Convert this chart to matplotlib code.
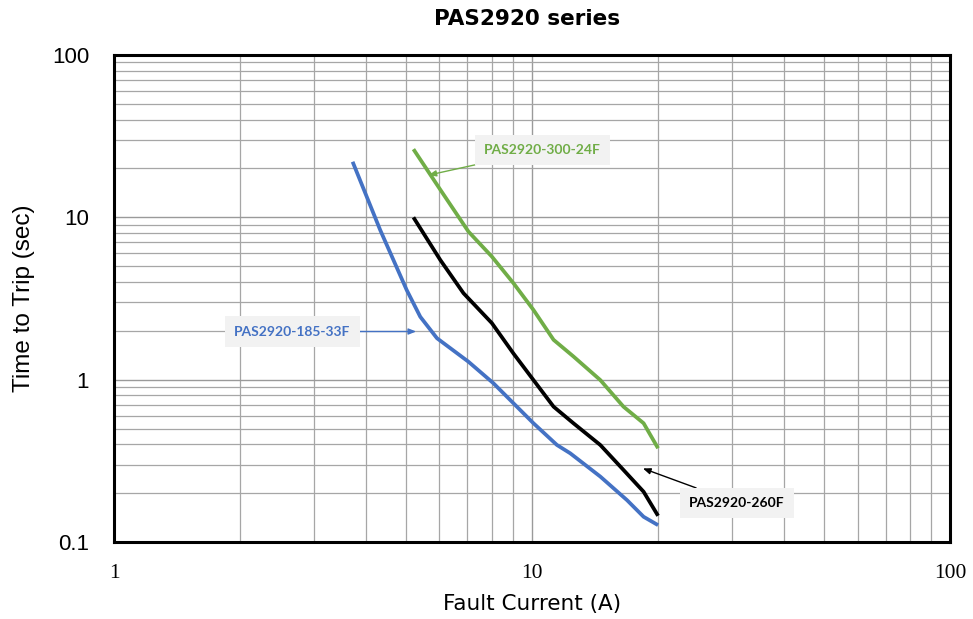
import matplotlib.pyplot as plt

# =====================================================
# DATA
# =====================================================
current_185 = [3.72, 4.33, 5.01, 5.40, 5.92, 7.04, 8.08, 10.07, 11.46, 12.33, 14.55, 16.86, 18.47, 20.0]
time_185 = [22.0, 8.36, 3.57, 2.44, 1.80, 1.29, 0.95, 0.539, 0.396, 0.352, 0.253, 0.181, 0.143, 0.127]

current_260 = [5.2, 6.03, 6.85, 8.01, 9.02, 10.07, 11.25, 12.55, 14.55, 16.53, 18.47, 20.0]
time_260 = [10.0, 5.46, 3.41, 2.23, 1.45, 0.995, 0.682, 0.539, 0.396, 0.278, 0.204, 0.145]

current_300 = [5.2, 6.03, 7.04, 8.01, 9.02, 10.07, 11.25, 12.55, 14.55, 16.53, 18.47, 20.0]
time_300 = [26.3, 14.8, 8.17, 5.73, 3.93, 2.69, 1.76, 1.39, 0.995, 0.682, 0.539, 0.378]

x_ticks = [1, 10, 100]
x_tick_labels = ["1", "10", "100"]
y_ticks = [0.1, 1, 10, 100]
y_tick_labels = ["0.1", "1", "10", "100"]

# =====================================================
# COLORS
# =====================================================
blue = "#4472C4"
green = "#70AD47"
black = "#000000"

# =====================================================
# FIGURE
# =====================================================
fig = plt.figure(figsize=(9.73, 6.19), dpi=100)
ax = fig.add_axes([0.1172, 0.1244, 0.8595, 0.7867])

ax.set_xscale("log")
ax.set_yscale("log")
ax.set_xlim(1, 100)
ax.set_ylim(0.1, 100)

# grid
ax.grid(True, which="major", color="#9a9a9a", linewidth=1.0)
ax.grid(True, which="minor", color="#a6a6a6", linewidth=0.9)
ax.set_axisbelow(True)

for s in ax.spines.values():
    s.set_linewidth(2.2)
    s.set_color("black")

# curves
lw = 2.7
ax.plot(current_185, time_185, color=blue, linewidth=lw, solid_capstyle="butt", solid_joinstyle="round", zorder=3)
ax.plot(current_260, time_260, color=black, linewidth=lw, solid_capstyle="butt", solid_joinstyle="round", zorder=3)
ax.plot(current_300, time_300, color=green, linewidth=lw, solid_capstyle="butt", solid_joinstyle="round", zorder=3)

# ticks
ax.set_xticks(x_ticks)
ax.set_xticklabels(x_tick_labels, fontfamily="Liberation Serif", fontsize=15.5)
ax.set_yticks(y_ticks)
ax.set_yticklabels(y_tick_labels, fontfamily="Liberation Sans", fontsize=16)
ax.tick_params(axis="both", which="both", length=0)
ax.tick_params(axis="x", pad=16)
ax.tick_params(axis="y", pad=18)

# labels
ax.set_xlabel("Fault Current (A)", fontfamily="DejaVu Sans", fontsize=15.5, labelpad=8)
ax.set_ylabel("Time to Trip (sec)", fontfamily="Liberation Sans", fontsize=17.5, labelpad=12)
fig.text(0.542, 0.969, "PAS2920 series", ha="center", va="center",
         fontfamily="DejaVu Sans", fontweight="bold", fontsize=15.5)

# =====================================================
# ANNOTATIONS
# =====================================================
box = dict(boxstyle="square,pad=0.65", facecolor="#F2F2F2", edgecolor="none")

def label(text, color, target, where):
    ax.annotate(
        text, xy=target, xytext=where,
        ha="center", va="center",
        fontfamily="Lato", fontweight="bold", fontsize=10, color=color,
        bbox=box,
        arrowprops=dict(arrowstyle="-|>,head_length=0.45,head_width=0.18",
                        color=color, linewidth=1.0, shrinkA=0, shrinkB=0),
        zorder=5,
    )

label("PAS2920-300-24F", green, (5.65, 18.2), (10.57, 26.0))
label("PAS2920-185-33F", blue, (5.28, 1.98), (2.67, 1.98))
label("PAS2920-260F", black, (18.4, 0.284), (30.9, 0.174))

plt.savefig("out.png", dpi=100)
plt.close()
